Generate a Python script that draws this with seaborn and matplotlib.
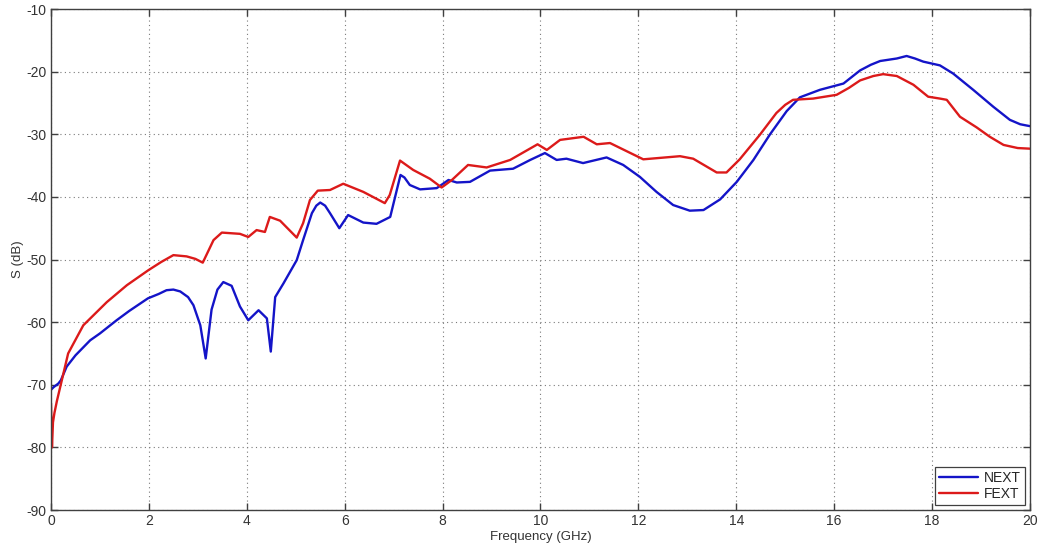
import numpy as np
import pandas as pd
import matplotlib
matplotlib.use("Agg")
import matplotlib.pyplot as plt
import seaborn as sns

# Near-end crosstalk (NEXT) vs frequency
next_freq = [0.0, 0.05, 0.15, 0.2, 0.32, 0.5, 0.8, 1.0, 1.34, 1.6, 1.98, 2.2, 2.36, 2.5, 2.64,
             2.8, 2.91, 3.05, 3.16, 3.28, 3.4, 3.52, 3.69, 3.86, 4.03, 4.24, 4.41, 4.49, 4.58,
             4.75, 5.02, 5.15, 5.33, 5.42, 5.5, 5.6, 5.7, 5.89, 6.07, 6.38, 6.65, 6.93, 7.03,
             7.14, 7.22, 7.33, 7.54, 7.88, 8.12, 8.29, 8.56, 8.97, 9.44, 9.79, 10.09, 10.33,
             10.53, 10.87, 11.35, 11.69, 12.03, 12.37, 12.71, 13.05, 13.33, 13.67, 14.01,
             14.35, 14.69, 15.03, 15.3, 15.71, 16.19, 16.53, 16.75, 16.94, 17.28, 17.48, 17.65,
             17.82, 18.16, 18.43, 18.84, 19.25, 19.59, 19.8, 19.93, 20.0]
next_db = [-70.8, -70.4, -69.8, -69.3, -67.1, -65.3, -62.9, -61.8, -59.7, -58.2, -56.2, -55.5,
           -54.9, -54.8, -55.1, -56.0, -57.3, -60.5, -65.8, -58.0, -54.8, -53.6, -54.2, -57.5,
           -59.7, -58.1, -59.4, -64.7, -56.0, -53.8, -50.1, -46.9, -42.6, -41.4, -40.9, -41.4,
           -42.6, -45.0, -42.9, -44.1, -44.3, -43.2, -40.0, -36.5, -36.9, -38.1, -38.8, -38.6,
           -37.3, -37.7, -37.6, -35.8, -35.5, -34.1, -33.0, -34.1, -33.9, -34.6, -33.7, -34.9,
           -36.8, -39.2, -41.3, -42.2, -42.1, -40.4, -37.6, -34.1, -30.0, -26.3, -24.1, -22.9,
           -21.9, -19.8, -18.9, -18.3, -17.9, -17.5, -17.9, -18.4, -19.0, -20.3, -22.9, -25.6,
           -27.7, -28.4, -28.6, -28.7]

# Far-end crosstalk (FEXT) vs frequency
fext_freq = [0.0, 0.02, 0.04, 0.07, 0.12, 0.22, 0.35, 0.66, 1.14, 1.55, 1.99, 2.25, 2.5, 2.77,
             2.95, 3.1, 3.32, 3.49, 3.86, 4.03, 4.2, 4.37, 4.47, 4.68, 5.02, 5.15, 5.29, 5.45,
             5.7, 5.97, 6.38, 6.82, 6.92, 7.13, 7.4, 7.74, 7.98, 8.19, 8.52, 8.9, 9.38, 9.94,
             10.13, 10.4, 10.88, 11.15, 11.42, 12.1, 12.85, 13.12, 13.6, 13.8, 14.07, 14.48,
             14.82, 15.0, 15.16, 15.57, 16.05, 16.3, 16.53, 16.8, 17.0, 17.28, 17.62, 17.92,
             18.16, 18.3, 18.57, 18.91, 19.18, 19.46, 19.75, 20.0]
fext_db = [-73.0, -80.0, -76.0, -74.5, -72.6, -69.3, -65.0, -60.5, -56.8, -54.1, -51.7, -50.4,
           -49.3, -49.5, -49.9, -50.5, -46.9, -45.7, -45.9, -46.4, -45.3, -45.6, -43.2, -43.8,
           -46.5, -44.2, -40.5, -39.0, -38.9, -37.9, -39.2, -41.0, -39.7, -34.2, -35.7, -37.1,
           -38.5, -37.3, -34.9, -35.3, -34.1, -31.6, -32.5, -30.9, -30.4, -31.6, -31.4, -34.0,
           -33.5, -33.9, -36.1, -36.1, -34.0, -30.1, -26.6, -25.3, -24.5, -24.3, -23.7, -22.6,
           -21.4, -20.7, -20.4, -20.7, -22.1, -24.0, -24.3, -24.5, -27.2, -28.9, -30.4, -31.7,
           -32.2, -32.3]

series_names = ["NEXT", "FEXT"]
series_colors = ["#1414c8", "#dc1a1a"]

x_ticks = [0, 2, 4, 6, 8, 10, 12, 14, 16, 18, 20]
y_ticks = [-90, -80, -70, -60, -50, -40, -30, -20, -10]

df = pd.concat([
    pd.DataFrame({"Frequency": next_freq, "S": next_db, "Signal": series_names[0]}),
    pd.DataFrame({"Frequency": fext_freq, "S": fext_db, "Signal": series_names[1]}),
], ignore_index=True)

sns.set_theme(style="white")
plt.rcParams["font.family"] = ["Liberation Sans", "DejaVu Sans"]

fig = plt.figure(figsize=(10.39, 5.5), dpi=100)
ax = fig.add_axes([0.0491, 0.0727, 0.9422, 0.9109])

sns.lineplot(data=df, x="Frequency", y="S", hue="Signal", hue_order=series_names,
             palette=dict(zip(series_names, series_colors)), sort=False,
             estimator=None, linewidth=1.7, ax=ax)

ax.set_xlim(0, 20)
ax.set_ylim(-90, -10)
ax.set_xticks(x_ticks)
ax.set_yticks(y_ticks)
ax.set_xticklabels([str(t) for t in x_ticks])
ax.set_yticklabels([str(t) for t in y_ticks])

ax.grid(True, linestyle=(0, (1, 3)), color="#7a7a7a", linewidth=0.8)
for side in ["left", "right", "top", "bottom"]:
    ax.spines[side].set_visible(True)
    ax.spines[side].set_color("#404040")
    ax.spines[side].set_linewidth(1.0)
ax.tick_params(axis="both", direction="in", length=5, width=1.0, color="#404040",
               labelsize=10, labelcolor="#333333", top=True, right=True,
               bottom=True, left=True, pad=3)

ax.set_xlabel("Frequency (GHz)", fontsize=9.5, color="#333333", labelpad=2)
ax.set_ylabel("S (dB)", fontsize=9.5, color="#333333", labelpad=2)

leg = ax.legend(loc="lower right", fontsize=10, frameon=True, fancybox=False,
                edgecolor="#404040", framealpha=1, borderpad=0.3, handlelength=2.8,
                labelspacing=0.15, handletextpad=0.4, borderaxespad=0.35)
leg.get_frame().set_linewidth(0.9)
for line in leg.get_lines():
    line.set_linewidth(1.7)

fig.savefig("out.png", dpi=100, facecolor="white")
